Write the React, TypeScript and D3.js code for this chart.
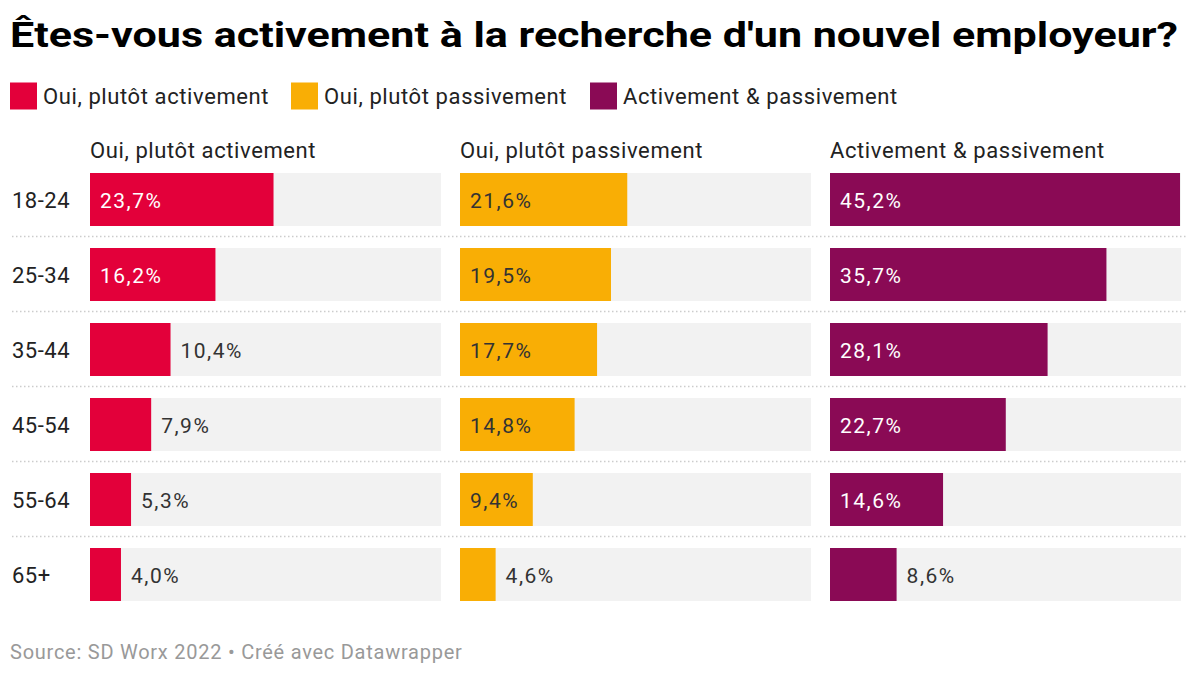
import React from "react";
import * as d3 from "d3";

const title = "Êtes-vous activement à la recherche d'un nouvel employeur?";
const source = "Source: SD Worx 2022 • Créé avec Datawrapper";
const ageGroups = ["18-24", "25-34", "35-44", "45-54", "55-64", "65+"];
const seriesNames = ["Oui, plutôt activement", "Oui, plutôt passivement", "Activement & passivement"];
const seriesColors = ["#e3003a", "#f9ae05", "#8a0a55"];
const labelInsideColors = ["#ffffff", "#333333", "#ffffff"];
const activement = [23.7, 16.2, 10.4, 7.9, 5.3, 4.0];
const passivement = [21.6, 19.5, 17.7, 14.8, 9.4, 4.6];
const lesDeux = [45.2, 35.7, 28.1, 22.7, 14.6, 8.6];
const seriesValues = [activement, passivement, lesDeux];

const W = 1200;
const H = 675;
const font = "Roboto, 'Noto Sans', sans-serif";

function fmt(v: number) {
  return v.toFixed(1).replace(".", ",") + "%";
}
function textW(s: string) {
  let w = 0;
  for (const c of s) {
    if (c === ",") w += 6.7;
    else if (c === "%") w += 16.5;
    else w += 13;
  }
  return w;
}

export default function App() {
  const colX = [90, 460, 830];
  const colW = 351;
  const x = d3.scaleLinear().domain([0, 45.2]).range([0, 350]);
  const bh = 53;
  const step = 75;
  const legendX = [10, 291, 590];

  return (
    <svg width={W} height={H} style={{ display: "block", margin: -8, fontFamily: font }}>
      <rect width={W} height={H} fill="#fff" />
      <text x={10} y={47} fontSize={35} fontWeight={700} fill="#000" textLength={1168} lengthAdjust="spacingAndGlyphs">{title}</text>
      {seriesNames.map((n, i) => (
        <g key={n}>
          <rect x={legendX[i]} y={82.5} width={27} height={27} fill={seriesColors[i]} />
          <text x={legendX[i] + 33} y={104} fontSize={22} letterSpacing={0.6} fill="#222">{n}</text>
        </g>
      ))}
      {seriesNames.map((n, i) => (
        <text key={"h" + n} x={colX[i]} y={158} fontSize={22} letterSpacing={0.6} fill="#222">{n}</text>
      ))}
      {ageGroups.map((g, r) => {
        const top = 173 + r * step;
        return (
          <g key={g}>
            <text x={12} y={top + bh / 2 + 8} fontSize={22} letterSpacing={0.5} fill="#222">{g}</text>
            {r > 0 && (
              <line x1={12} x2={1188} y1={top - 11.5} y2={top - 11.5} stroke="#ccc" strokeWidth={1.5} strokeDasharray="1.5,2.5" />
            )}
            {seriesValues.map((vals, i) => {
              const v = vals[r];
              const bw = x(v);
              const label = fmt(v);
              const tw = textW(label);
              const inside = bw > tw + 21;
              return (
                <g key={i}>
                  <rect x={colX[i]} y={top} width={colW} height={bh} fill="#f2f2f2" />
                  <rect x={colX[i]} y={top} width={bw} height={bh} fill={seriesColors[i]} />
                  <text
                    x={inside ? colX[i] + 10 : colX[i] + bw + 10}
                    y={top + bh / 2 + 8}
                    fontSize={21}
                    letterSpacing={1.5}
                    fill={inside ? labelInsideColors[i] : "#333"}
                  >{label}</text>
                </g>
              );
            })}
          </g>
        );
      })}
      <text x={10} y={659} fontSize={20} letterSpacing={0.75} fill="#999">{source}</text>
    </svg>
  );
}
